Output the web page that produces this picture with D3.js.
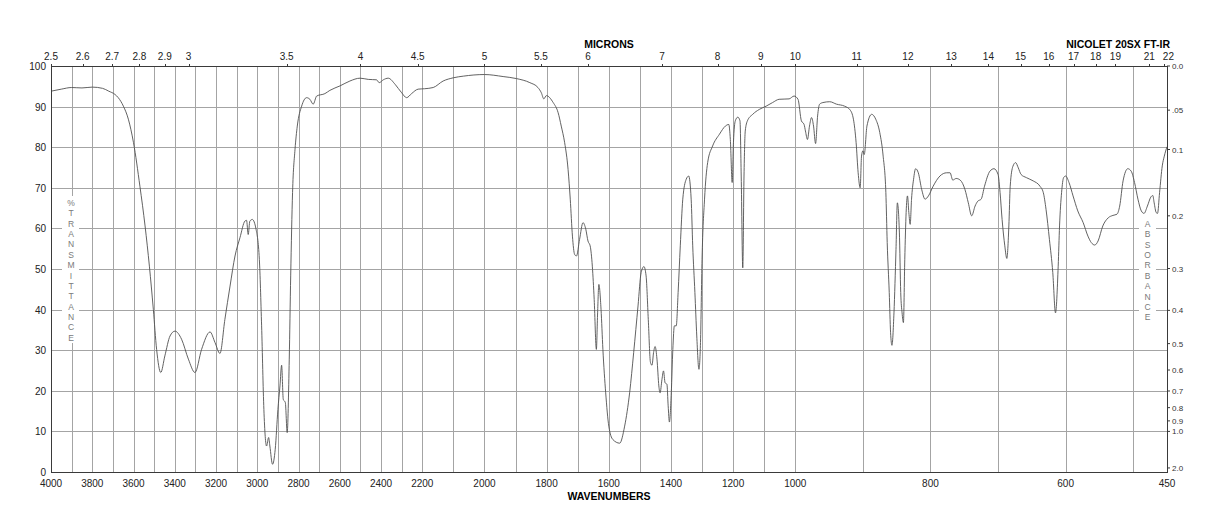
<!DOCTYPE html>
<html lang="en">
<head>
    <meta charset="UTF-8">
    <title>IR Spectrum</title>
    <script src="https://d3js.org/d3.v7.min.js"></script>
</head>
<style>
    body { margin: 0; background: #fff; }
    text { font-family: "Liberation Sans", Arial, Helvetica, sans-serif; }
</style>
<body>
<svg id="main" width="1218" height="528"></svg>
<script>
    // spectrum (wavenumber cm-1, %T)
    const wavenumbers = [4000, 3950, 3900, 3850, 3800, 3750, 3720, 3690, 3674, 3649, 3625, 3600, 3569, 3544, 3523, 3504,
        3488, 3468, 3448, 3423, 3399, 3367, 3334, 3302, 3270, 3229, 3205, 3181, 3157, 3132, 3108, 3084, 3060, 3052, 3044,
        3036, 3024, 3006, 2990, 2979, 2968, 2955, 2945, 2939, 2926, 2913, 2900, 2890, 2882, 2874, 2864, 2855, 2845, 2838,
        2829, 2817, 2806, 2785, 2761, 2745, 2729, 2712, 2672, 2648, 2599, 2551, 2502, 2462, 2422, 2409, 2389, 2365, 2332,
        2300, 2276, 2252, 2220, 2193, 2165, 2133, 2100, 2068, 2000, 1940, 1897, 1854, 1828, 1817, 1809, 1801, 1779, 1763,
        1753, 1742, 1731, 1724, 1717, 1710, 1704, 1694, 1683, 1674, 1667, 1660, 1653, 1647, 1640, 1636, 1632, 1625, 1619,
        1610, 1600, 1587, 1565, 1549, 1533, 1520, 1506, 1496, 1487, 1480, 1473, 1466, 1461, 1456, 1451, 1445, 1439, 1435,
        1429, 1424, 1419, 1413, 1409, 1405, 1399, 1394, 1389, 1383, 1377, 1370, 1362, 1351, 1343, 1335, 1330, 1323, 1317,
        1310, 1305, 1300, 1292, 1282, 1266, 1244, 1225, 1214, 1209, 1203, 1199, 1193, 1185, 1178, 1174, 1169, 1165, 1161,
        1154, 1137, 1116, 1094, 1073, 1052, 1020, 1004, 996, 991, 987, 985, 982, 979, 976, 973, 970, 967, 964, 959, 949,
        939, 927, 919, 914, 910, 907, 904, 902, 900, 898, 894, 887, 881, 875, 870, 866, 864, 861, 859, 857, 854, 851, 849,
        846, 844, 842, 840, 838, 836, 834, 832, 830, 828, 825, 822, 818, 813, 808, 803, 796, 786, 776, 771, 767, 762, 756,
        749, 744, 739, 734, 730, 725, 720, 712, 706, 700, 697, 694, 690, 687, 684, 682, 678, 674, 670, 666, 658, 648, 638,
        633, 629, 624, 619, 615, 611, 609, 606, 603, 600, 595, 589, 582, 574, 567, 562, 557, 552, 545, 537, 530, 524, 520,
        515, 508, 503, 498, 493, 488, 484, 479, 474, 471, 469, 466, 464, 461, 457, 454, 450];
    const transmittance = [93.8, 94.3, 94.7, 94.6, 94.8, 94.5, 93.8, 93.0, 92.2, 90.1, 86.9, 81.1, 70.4, 60.6, 50.7, 40.1,
        30.2, 24.5, 28.6, 33.5, 34.7, 32.7, 27.8, 24.5, 30.2, 34.5, 31.9, 29.2, 37.6, 45.8, 53.2, 57.7, 61.8, 62.0, 58.5,
        61.8, 62.2, 59.8, 52.4, 36.0, 15.4, 6.4, 8.5, 6.4, 1.9, 5.6, 15.4, 21.2, 26.3, 17.9, 17.1, 9.7, 27.8, 48.3,
        68.8, 79.5, 85.2, 90.1, 92.2, 91.8, 90.6, 92.6, 93.2, 94.0, 95.1, 96.3, 97.0, 96.7, 96.6, 95.9, 96.6, 97.0, 95.5,
        93.4, 92.2, 93.2, 94.3, 94.4, 94.7, 96.3, 97.1, 97.5, 97.9, 97.4, 96.9, 95.9, 94.7, 93.4, 91.9, 92.7, 91.0, 88.5,
        85.2, 81.1, 74.5, 67.2, 58.1, 53.6, 53.2, 57.3, 61.4, 59.8, 56.9, 55.7, 50.7, 42.5, 30.2, 39.2, 46.2, 40.1, 30.2,
        19.5, 11.3, 8.0, 7.1, 11.3, 19.5, 29.4, 40.9, 49.1, 50.6, 48.3, 37.6, 27.0, 26.3, 29.4, 30.9, 27.8, 21.2, 19.5,
        22.8, 24.9, 22.0, 21.6, 16.3, 12.3, 19.5, 30.2, 36.0, 36.0, 44.2, 55.7, 67.2, 72.1, 72.9, 67.2, 55.7, 44.2, 33.5,
        25.3, 31.9, 52.4, 67.2, 76.2, 80.3, 83.2, 85.2, 85.6, 81.9, 71.3, 81.1, 86.5, 87.4, 86.5, 72.9, 50.3, 72.9, 84.0,
        86.5, 88.1, 89.3, 90.1, 91.0, 91.8, 91.9, 92.6, 91.8, 86.5, 85.6, 84.0, 81.9, 85.2, 87.3, 85.2, 80.9, 87.7, 90.6, 91.0, 91.2,
        90.6, 90.1, 89.2, 86.9, 81.1, 73.7, 70.0, 77.8, 79.1, 78.2, 85.2, 88.1, 86.9, 83.6, 77.8, 68.8, 56.5, 44.2, 34.3, 31.2, 39.2, 54.8, 66.3,
        59.1, 44.2, 39.2, 36.8, 52.4, 63.9, 68.0, 63.9, 61.0, 67.2, 72.1, 74.7, 73.7, 69.6, 67.2, 68.0, 70.4, 72.9, 73.7, 73.7, 71.9, 72.3, 71.9,
        69.6, 66.3, 63.1, 65.5, 66.7, 67.2, 70.4, 74.1, 74.7, 73.3, 68.8, 62.2, 55.7, 52.6, 60.6, 70.4, 75.3, 76.2, 74.9, 73.3, 72.5, 71.7, 70.4,
        68.8, 64.7, 57.3, 49.1, 39.2, 50.7, 60.6, 68.8, 72.5, 72.9, 71.3, 68.0, 64.3, 61.4, 58.1, 56.5, 55.9, 56.9, 60.6, 62.6, 63.2, 63.5, 65.5,
        71.7, 74.7, 74.1, 71.3, 67.2, 64.3, 63.7, 65.5, 67.7, 68.1, 66.3, 63.9, 63.7, 68.8, 75.4, 77.8, 80.1];

    // axis labels
    const wnLabels = [4000, 3800, 3600, 3400, 3200, 3000, 2800, 2600, 2400, 2200, 2000, 1800, 1600, 1400, 1200, 1000, 800, 600, 450];
    const pctLabels = [0, 10, 20, 30, 40, 50, 60, 70, 80, 90, 100];
    const micronLabels = [2.5, 2.6, 2.7, 2.8, 2.9, 3, 3.5, 4, 4.5, 5, 5.5, 6, 7, 8, 9, 10, 11, 12, 13, 14, 15, 16, 17, 18, 19, 21, 22];
    const absValues = [0, 0.05, 0.1, 0.2, 0.3, 0.4, 0.5, 0.6, 0.7, 0.8, 0.9, 1.0, 2.0];
    const absLabels = ['0.0', '.05', '0.1', '0.2', '0.3', '0.4', '0.5', '0.6', '0.7', '0.8', '0.9', '1.0', '2.0'];

    let svg = d3.select('svg#main');
    let pl = 51, pr = 1167, pt = 66, pb = 472;

    // the scale changes at 2200 and 1000 cm-1
    let x = d3.scaleLinear()
        .domain([4000, 2200, 1000, 450])
        .range([pl, 422.3, 795.3, pr]);
    let y = d3.scaleLinear().domain([0, 100]).range([pb, pt]);

    let grid = svg.append('g').attr('stroke', '#a4a4a4').attr('stroke-width', 1).attr('shape-rendering', 'crispEdges');
    let gridWn = d3.range(3900, 999, -100).concat(d3.range(900, 450, -100));
    grid.selectAll('.vg').data(gridWn).enter().append('line')
        .attr('x1', d => Math.round(x(d)) + 0.5).attr('x2', d => Math.round(x(d)) + 0.5)
        .attr('y1', pt).attr('y2', pb);
    grid.selectAll('.hg').data(pctLabels.slice(1, -1)).enter().append('line')
        .attr('x1', pl).attr('x2', pr)
        .attr('y1', d => Math.round(y(d)) + 0.5).attr('y2', d => Math.round(y(d)) + 0.5);

    // white boxes behind the vertical axis titles
    svg.append('rect').attr('x', 62).attr('y', 196).attr('width', 17).attr('height', 147).attr('fill', '#fff');
    svg.append('rect').attr('x', 1139).attr('y', 217).attr('width', 17).attr('height', 106).attr('fill', '#fff');

    let vText = (str, cx, y0, step) => {
        svg.append('g').selectAll('text').data(str.split('')).enter().append('text')
            .attr('x', cx).attr('y', (d, i) => y0 + i * step)
            .attr('text-anchor', 'middle').attr('font-size', '8.5px').attr('fill', '#7a7a7a')
            .text(d => d);
    };
    vText('%TRANSMITTANCE', 71, 206, 10.36);
    vText('ABSORBANCE', 1147.5, 227, 10.37);

    // spectrum
    let pts = wavenumbers.map((w, i) => [w, transmittance[i]]);
    let line = d3.line()
        .x(d => x(d[0]))
        .y(d => y(d[1]))
        .curve(d3.curveMonotoneX);
    svg.append('path')
        .attr('d', line(pts))
        .attr('fill', 'none')
        .attr('stroke', '#505050')
        .attr('stroke-width', 0.9);

    // frame
    svg.append('rect')
        .attr('x', pl + 0.5).attr('y', pt + 0.5)
        .attr('width', pr - pl).attr('height', pb - pt)
        .attr('fill', 'none').attr('stroke', '#3a3a3a').attr('stroke-width', 1)
        .attr('shape-rendering', 'crispEdges');

    // left %T labels
    svg.append('g').selectAll('text').data(pctLabels).enter().append('text')
        .attr('x', 46).attr('y', d => y(d) + 4)
        .attr('text-anchor', 'end').attr('font-size', '10px').attr('fill', '#222')
        .text(d => d);

    // bottom wavenumber labels
    svg.append('g').selectAll('text').data(wnLabels).enter().append('text')
        .attr('x', d => x(d)).attr('y', 487)
        .attr('text-anchor', 'middle').attr('font-size', '10px').attr('fill', '#222')
        .text(d => d);

    // top micron axis
    let labelShift = {22: 4.5};
    svg.append('g').selectAll('line').data(micronLabels).enter().append('line')
        .attr('x1', d => Math.round(x(10000 / d)) + 0.5).attr('x2', d => Math.round(x(10000 / d)) + 0.5)
        .attr('y1', pt - 2).attr('y2', pt)
        .attr('stroke', '#3a3a3a');
    svg.append('g').selectAll('text').data(micronLabels).enter().append('text')
        .attr('x', d => x(10000 / d) + (labelShift[d] || 0)).attr('y', 59.5)
        .attr('text-anchor', 'middle').attr('font-size', '10px').attr('fill', '#222')
        .text(d => d);

    // right absorbance axis
    let absY = a => y(100 * Math.pow(10, -a));
    svg.append('g').selectAll('line').data(absValues).enter().append('line')
        .attr('x1', pr).attr('x2', pr + 3)
        .attr('y1', d => absY(d)).attr('y2', d => absY(d))
        .attr('stroke', '#3a3a3a');
    svg.append('g').selectAll('text').data(absValues).enter().append('text')
        .attr('x', pr + 5).attr('y', d => absY(d) + 3)
        .attr('font-size', '8px').attr('fill', '#333')
        .text((d, i) => absLabels[i]);

    // titles
    svg.append('text').attr('x', 609).attr('y', 48).attr('text-anchor', 'middle')
        .attr('font-size', '10.5px').attr('font-weight', 'bold').text('MICRONS');
    svg.append('text').attr('x', 1170).attr('y', 48).attr('text-anchor', 'end')
        .attr('font-size', '10.5px').attr('font-weight', 'bold').text('NICOLET 20SX FT-IR');
    svg.append('text').attr('x', 609).attr('y', 500).attr('text-anchor', 'middle')
        .attr('font-size', '10.5px').attr('font-weight', 'bold').text('WAVENUMBERS');
</script>
</body>
</html>
